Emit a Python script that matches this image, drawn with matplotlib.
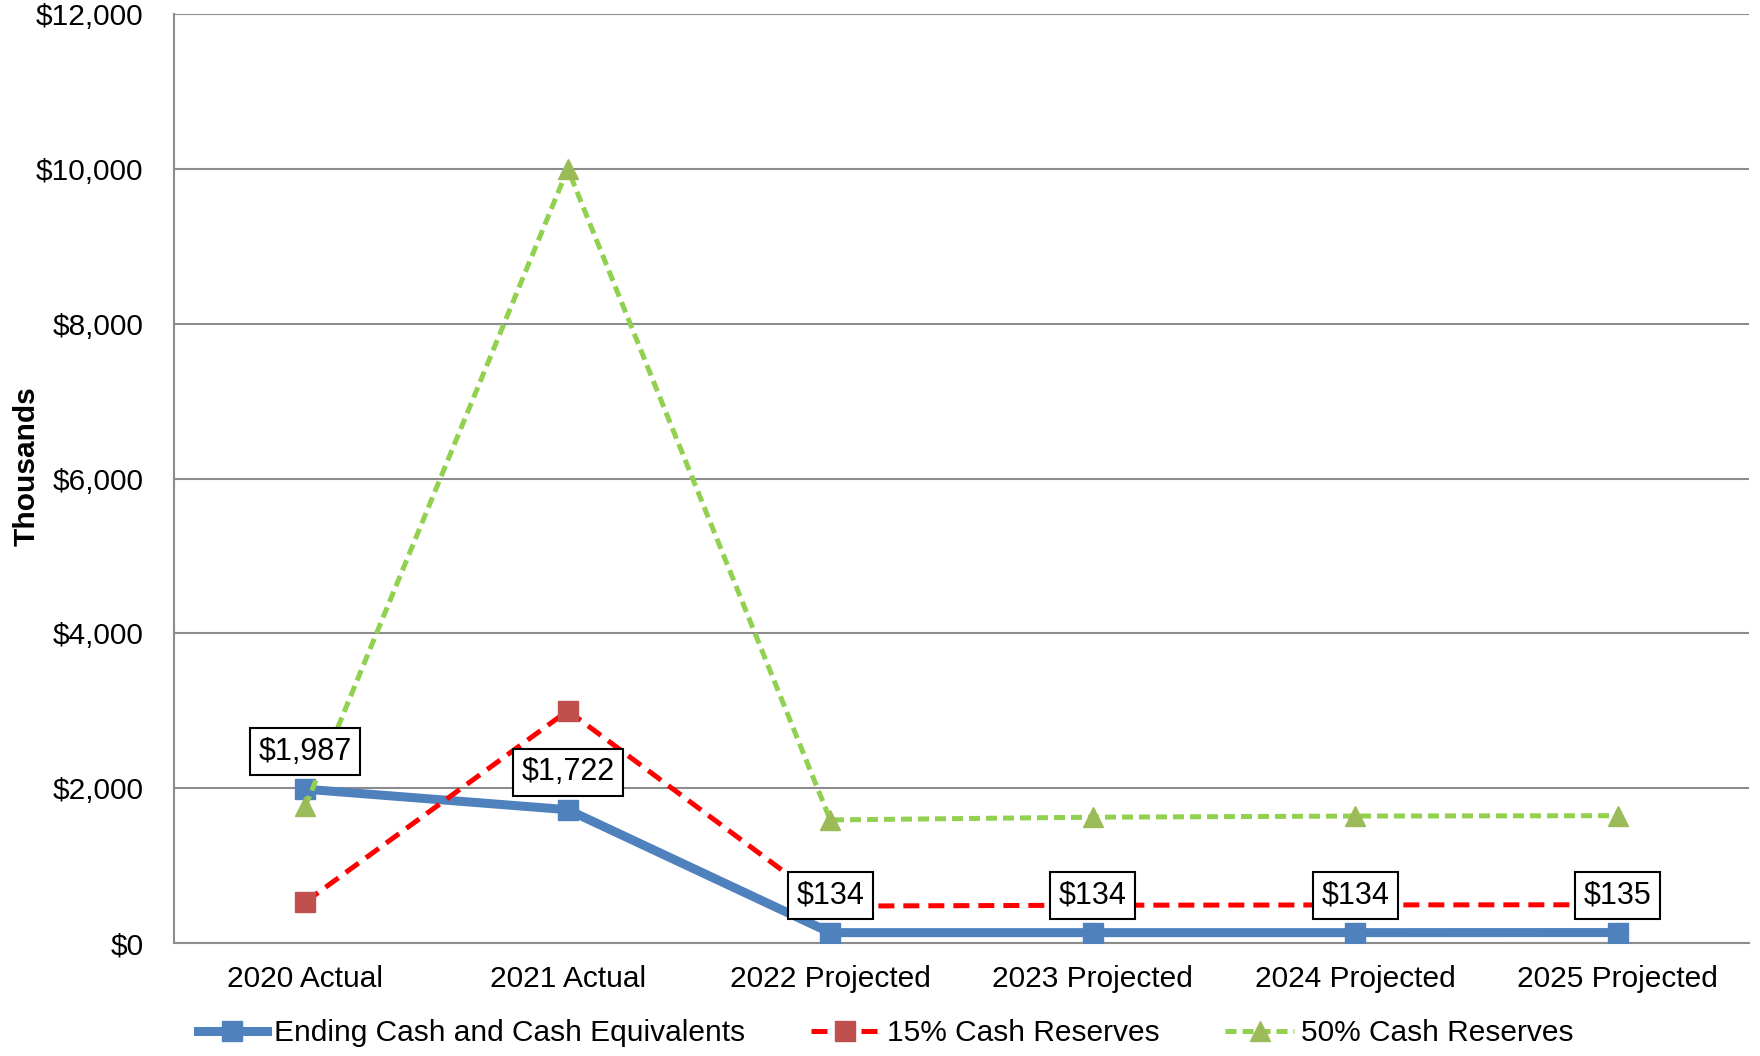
import matplotlib
matplotlib.use("Agg")
import matplotlib.pyplot as plt
from matplotlib.ticker import FuncFormatter

plt.rcParams['font.family'] = ['Liberation Sans', 'DejaVu Sans']

years = ['2020 Actual', '2021 Actual', '2022 Projected', '2023 Projected',
         '2024 Projected', '2025 Projected']
ending_cash = [1987, 1722, 134, 134, 134, 135]
reserves_15 = [530, 3000, 477, 488, 492, 494]
reserves_50 = [1767, 10000, 1590, 1625, 1640, 1645]

fig = plt.figure(figsize=(17.6, 10.56), dpi=100)
ax = fig.add_axes([0.0989, 0.107, 0.8948, 0.8797])

x = range(len(years))

ax.plot(x, ending_cash, color='#4F81BD', lw=6.5, marker='s', ms=14,
        mfc='#4F81BD', mec='#4F81BD', solid_joinstyle='miter',
        label='Ending Cash and Cash Equivalents', zorder=3)
ax.plot(x, reserves_15, color='#FF0000', lw=3.6, ls=(0, (3.2, 1.8)),
        marker='s', ms=14, mfc='#C0504D', mec='#C0504D',
        label='15% Cash Reserves', zorder=4)
ax.plot(x, reserves_50, color='#92D050', lw=3.6, ls=(0, (2.2, 1.2)),
        marker='^', ms=15, mfc='#9BBB59', mec='#9BBB59',
        label='50% Cash Reserves', zorder=5)

# value boxes over the ending cash points
for i, v in enumerate(ending_cash):
    ax.annotate(f'${v:,}', (i, v), xytext=(0, 27), textcoords='offset points',
                ha='center', va='center', fontsize=22, zorder=10,
                bbox=dict(boxstyle='square,pad=0.28', fc='white', ec='black', lw=1.5))

ax.set_xlim(-0.5, len(years) - 0.5)
ax.set_ylim(0, 12000)
ax.set_yticks(range(0, 12001, 2000))
ax.yaxis.set_major_formatter(FuncFormatter(lambda v, p: f'${v:,.0f}'))
ax.set_xticks(list(x))
ax.set_xticklabels(years)
ax.tick_params(axis='both', length=0, labelsize=21.5)
ax.tick_params(axis='x', pad=16)
ax.tick_params(axis='y', pad=22)

ax.grid(axis='y', color='#8C8C8C', lw=1.5)
ax.set_axisbelow(True)
for s in ['top', 'right']:
    ax.spines[s].set_visible(False)
for s in ['left', 'bottom']:
    ax.spines[s].set_color('#8C8C8C')
    ax.spines[s].set_linewidth(1.5)

ax.set_ylabel('Thousands', fontsize=21.5, fontweight='bold')
ax.yaxis.set_label_coords(-0.085, 0.513)

ax.legend(loc='lower center', bbox_to_anchor=(0.452, -0.141), ncol=3,
          frameon=False, fontsize=21.5, handlelength=2.3, handletextpad=0.25,
          columnspacing=2.2)

fig.savefig('out.png', dpi=100)
